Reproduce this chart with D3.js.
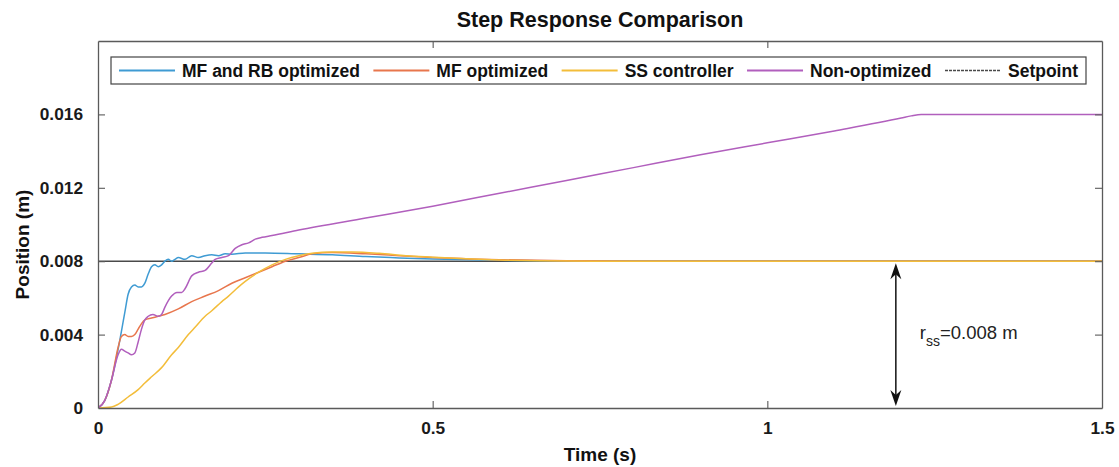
<!DOCTYPE html>
<html><head><meta charset="utf-8">
<script src="https://cdn.jsdelivr.net/npm/d3@7"></script>
<style>
html,body{margin:0;padding:0;background:#fff;}
svg{display:block;font-family:"Liberation Sans",Arial,sans-serif;}
</style></head>
<body><svg id="c" width="1119" height="467"></svg>
<script>
// ---------- data ----------
const seriesNames = ["MF and RB optimized","MF optimized","SS controller","Non-optimized","Setpoint"];
const seriesColors = ["#3f9bd3","#e8764d","#f3bd3a","#b15fbd","#4a4a4a"];
const xTicks = [0,0.5,1,1.5];
const yTicks = [0,0.004,0.008,0.012,0.016];
const xTickLabels = ["0","0.5","1","1.5"];
const yTickLabels = ["0","0.004","0.008","0.012","0.016"];
const setpointValue = 0.008;
const arrowTime = 1.192;
const annotationText = ["r","ss","=0.008 m"];

const mfrbT = [0,0.01,0.02,0.03,0.04,0.045,0.05,0.055,0.06,0.065,0.07,0.075,0.08,0.085,0.09,0.095,0.1,0.105,0.11,0.115,0.12,0.13,0.14,0.15,0.16,0.17,0.18,0.19,0.2,0.22,0.25,0.3,0.35,0.4,0.45,0.5,0.6,0.7,0.8,1.5];
const mfrbV = [0,0.0004,0.0015,0.0032,0.0052,0.0062,0.0066,0.0067,0.0066,0.0066,0.0068,0.0073,0.0077,0.0078,0.0077,0.0078,0.0080,0.0081,0.0080,0.0081,0.0082,0.0081,0.0083,0.0082,0.0083,0.00835,0.0083,0.0084,0.00838,0.00845,0.00845,0.0084,0.00835,0.00825,0.00818,0.00812,0.00805,0.00801,0.008,0.008];

const mfT = [0,0.01,0.02,0.03,0.035,0.04,0.045,0.05,0.055,0.06,0.065,0.07,0.08,0.09,0.1,0.12,0.14,0.16,0.18,0.2,0.22,0.24,0.26,0.28,0.3,0.32,0.35,0.4,0.45,0.5,0.6,0.7,0.8,1.5];
const mfV = [0,0.0004,0.0015,0.0033,0.0039,0.0040,0.0039,0.0039,0.0040,0.0043,0.0046,0.0048,0.0049,0.0050,0.0051,0.0054,0.0058,0.0061,0.0064,0.0068,0.0071,0.0074,0.0077,0.0080,0.0082,0.0084,0.00847,0.0084,0.0083,0.0082,0.00808,0.00802,0.008,0.008];

const ssT = [0,0.02,0.03,0.045,0.06,0.07,0.08,0.095,0.11,0.12,0.135,0.145,0.16,0.17,0.185,0.195,0.21,0.22,0.24,0.26,0.28,0.3,0.32,0.35,0.38,0.42,0.46,0.5,0.55,0.6,0.7,0.8,1.5];
const ssV = [0,0.00005,0.0002,0.0006,0.001,0.00136,0.0017,0.0022,0.0029,0.0033,0.0040,0.0044,0.0050,0.0053,0.0058,0.0061,0.0066,0.0069,0.0074,0.0078,0.0081,0.0083,0.00843,0.0085,0.0085,0.00843,0.0083,0.00822,0.00813,0.00807,0.00801,0.008,0.008];

const nonT = [0,0.01,0.02,0.03,0.035,0.04,0.045,0.05,0.055,0.06,0.065,0.07,0.075,0.082,0.09,0.095,0.1,0.11,0.118,0.125,0.13,0.14,0.15,0.16,0.17,0.175,0.185,0.195,0.205,0.215,0.225,0.235,0.245,0.26,0.3,0.4,0.5,0.6,0.7,0.8,0.9,1.0,1.1,1.2,1.215,1.23,1.5];
const nonV = [0,0.0004,0.0015,0.0029,0.0032,0.0031,0.0030,0.0029,0.0030,0.0036,0.0043,0.0048,0.0050,0.0051,0.0050,0.0051,0.0055,0.0061,0.0063,0.0063,0.0065,0.0072,0.0074,0.0075,0.0079,0.0081,0.0082,0.0083,0.0087,0.0089,0.0090,0.0092,0.0093,0.0094,0.0097,0.01035,0.0110,0.0117,0.0124,0.0131,0.0138,0.01445,0.0151,0.0158,0.01592,0.0160,0.0160];

const setT = [0,1.5];
const setV = [setpointValue,setpointValue];

// ---------- layout ----------
const W=1119,H=467;
const m={left:98,right:1102,top:41,bottom:408};
const x=d3.scaleLinear().domain([0,1.5]).range([m.left,m.right]);
const y=d3.scaleLinear().domain([0,0.02]).range([m.bottom,m.top]);
const svg=d3.select("#c");
const axisColor="#5a5a5a";

svg.append("defs").append("clipPath").attr("id","clip")
  .append("rect").attr("x",m.left).attr("y",m.top).attr("width",m.right-m.left).attr("height",m.bottom-m.top);

// title
svg.append("text").attr("x",(m.left+m.right)/2).attr("y",27).attr("text-anchor","middle")
  .attr("font-weight","bold").attr("font-size",21.5).attr("fill","#111").text("Step Response Comparison");

// lines
const series=[[mfrbT,mfrbV],[mfT,mfV],[ssT,ssV],[nonT,nonV]];
const line=d3.line().x(d=>x(d[0])).y(d=>y(d[1])).curve(d3.curveMonotoneX);
const g=svg.append("g").attr("clip-path","url(#clip)");
g.append("path").datum(d3.zip(setT,setV)).attr("d",d3.line().x(d=>x(d[0])).y(d=>y(d[1])))
  .attr("fill","none").attr("stroke",seriesColors[4]).attr("stroke-width",1.4);
series.forEach((s,i)=>{
  g.append("path").datum(d3.zip(s[0],s[1])).attr("d",line)
   .attr("fill","none").attr("stroke",seriesColors[i]).attr("stroke-width",1.5);
});

// axes (box with inward ticks)
const tl=7;
const xb=svg.append("g").attr("transform",`translate(0,${m.bottom})`)
  .call(d3.axisBottom(x).tickValues(xTicks).tickFormat((d,i)=>xTickLabels[i]).tickSizeInner(-tl).tickSizeOuter(0).tickPadding(14));
const xt=svg.append("g").attr("transform",`translate(0,${m.top})`)
  .call(d3.axisTop(x).tickValues(xTicks).tickFormat("").tickSizeInner(-tl).tickSizeOuter(0));
const yl=svg.append("g").attr("transform",`translate(${m.left},0)`)
  .call(d3.axisLeft(y).tickValues(yTicks).tickFormat((d,i)=>yTickLabels[i]).tickSizeInner(-tl).tickSizeOuter(0).tickPadding(15));
const yr=svg.append("g").attr("transform",`translate(${m.right},0)`)
  .call(d3.axisRight(y).tickValues(yTicks).tickFormat("").tickSizeInner(-tl).tickSizeOuter(0));
[xb,xt,yl,yr].forEach(a=>{
  a.select(".domain").attr("stroke",axisColor).attr("stroke-width",1.3);
  a.selectAll(".tick line").attr("stroke",axisColor).attr("stroke-width",1.1);
  a.selectAll("text").attr("font-family","'Liberation Sans',Arial,sans-serif")
   .attr("font-weight","bold").attr("font-size",17.3).attr("fill","#1a1a1a");
});
[xb,xt].forEach(a=>a.selectAll(".tick line").filter(d=>d===0||d===1.5).remove());
[yl,yr].forEach(a=>a.selectAll(".tick line").filter(d=>d===0).remove());

// axis labels
svg.append("text").attr("x",(m.left+m.right)/2).attr("y",461).attr("text-anchor","middle")
  .attr("font-weight","bold").attr("font-size",19).attr("fill","#111").text("Time (s)");
svg.append("text").attr("transform",`translate(29,${(m.top+m.bottom)/2+20}) rotate(-90)`).attr("text-anchor","middle")
  .attr("font-weight","bold").attr("font-size",19).attr("fill","#111").text("Position (m)");

// annotation arrow
const ax=x(arrowTime);
const y1=y(setpointValue)+2, y0=y(0)-2;
svg.append("line").attr("x1",ax).attr("x2",ax).attr("y1",y1+10).attr("y2",y0-10).attr("stroke","#111").attr("stroke-width",1.5);
svg.append("path").attr("d",`M${ax},${y1} L${ax-5.5},${y1+16} L${ax},${y1+11} L${ax+5.5},${y1+16} Z`).attr("fill","#111");
svg.append("path").attr("d",`M${ax},${y0} L${ax-5.5},${y0-16} L${ax},${y0-11} L${ax+5.5},${y0-16} Z`).attr("fill","#111");
const at=svg.append("text").attr("x",ax+24).attr("y",y(0.004)+4).attr("font-size",18.5).attr("fill","#222");
at.append("tspan").text(annotationText[0]);
at.append("tspan").attr("font-size",14).attr("dy",7).text(annotationText[1]);
at.append("tspan").attr("dy",-7).text(annotationText[2]);

// legend
const lg=svg.append("g");
const lx0=111,lx1=1086,ly0=57,ly1=84;
lg.append("rect").attr("x",lx0).attr("y",ly0).attr("width",lx1-lx0).attr("height",ly1-ly0)
  .attr("fill","#fff").attr("stroke","#444").attr("stroke-width",1.2);
const sampleLen=56, gapLT=7;
const texts=seriesNames.map(n=>lg.append("text").attr("font-weight","bold").attr("font-size",17.5).attr("fill","#111").attr("y",(ly0+ly1)/2+6).text(n));
const widths=texts.map(t=>t.node().getComputedTextLength());
const natural=d3.sum(widths)+seriesNames.length*(sampleLen+gapLT);
const pad=8;
const gap=(lx1-lx0-2*pad-natural)/(seriesNames.length-1);
let cx=lx0+pad;
seriesNames.forEach((n,i)=>{
  const ln=lg.append("line").attr("x1",cx).attr("x2",cx+sampleLen).attr("y1",(ly0+ly1)/2).attr("y2",(ly0+ly1)/2)
    .attr("stroke",seriesColors[i]).attr("stroke-width",i===4?1.4:1.8);
  if(i===4) ln.attr("stroke-dasharray","3,1");
  texts[i].attr("x",cx+sampleLen+gapLT);
  cx+=sampleLen+gapLT+widths[i]+gap;
});
</script></body></html>
